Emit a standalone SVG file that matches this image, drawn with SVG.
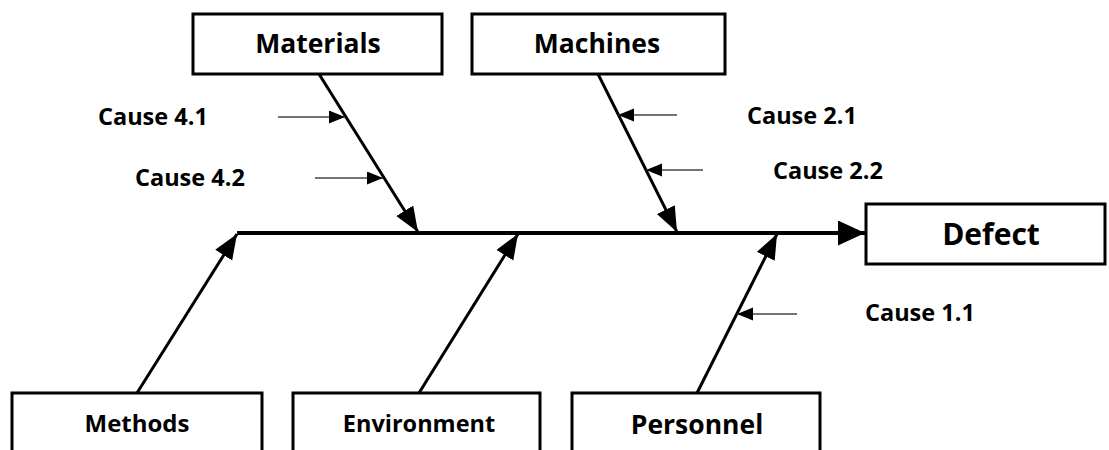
<svg xmlns="http://www.w3.org/2000/svg" width="1109" height="450" viewBox="0 0 1109 450">
<defs>
<style>
.box{fill:#fff;stroke:#000;stroke-width:3}
.lbl{font-family:"Open Sans","Liberation Sans",sans-serif;font-weight:bold;fill:#000;text-anchor:middle}
.cause{font-family:"Open Sans","Liberation Sans",sans-serif;font-weight:bold;font-size:23.5px;fill:#000}
.bone{stroke:#000;stroke-width:3;fill:none;marker-end:url(#big)}
.spine{stroke:#000;stroke-width:4;fill:none;marker-end:url(#spineHead)}
.sub{stroke:#444;stroke-width:1.3;fill:none;marker-end:url(#small)}
</style>
<marker id="big" markerUnits="userSpaceOnUse" markerWidth="26" markerHeight="22" refX="25" refY="10" orient="auto" viewBox="0 0 26 22"><path d="M0,0 L25,10 L0,20 z" fill="#000"/></marker>
<marker id="spineHead" markerUnits="userSpaceOnUse" markerWidth="28" markerHeight="26" refX="27" refY="12.5" orient="auto" viewBox="0 0 28 26"><path d="M0,0 L27,12.5 L0,25 z" fill="#000"/></marker>
<marker id="small" markerUnits="userSpaceOnUse" markerWidth="17" markerHeight="14" refX="16" refY="6.5" orient="auto" viewBox="0 0 17 14"><path d="M0,0 L16,6.5 L0,13 z" fill="#000"/></marker>
</defs>
<rect width="1109" height="450" fill="#fff"/>
<g id="connectors">
<line class="spine" x1="237" y1="233" x2="865" y2="233"/>
<line class="bone" x1="319" y1="74" x2="418" y2="232"/>
<line class="bone" x1="598" y1="74" x2="677" y2="232"/>
<line class="bone" x1="137" y1="393" x2="237" y2="234"/>
<line class="bone" x1="419" y1="393" x2="518" y2="234"/>
<line class="bone" x1="697" y1="393" x2="777" y2="234"/>
<line class="sub" x1="278" y1="117" x2="345" y2="117"/>
<line class="sub" x1="315" y1="178" x2="383" y2="178"/>
<line class="sub" x1="677" y1="115" x2="618" y2="115"/>
<line class="sub" x1="703" y1="170" x2="646" y2="170"/>
<line class="sub" x1="797" y1="314" x2="737" y2="314"/>
</g>
<g id="materials"><rect class="box" x="193" y="14" width="249" height="60"/><text class="lbl" x="318" y="53" font-size="26.5">Materials</text></g>
<g id="machines"><rect class="box" x="472" y="14" width="253" height="60"/><text class="lbl" x="597" y="53" font-size="26.5">Machines</text></g>
<g id="defect"><rect class="box" x="866" y="204" width="239" height="60"/><text class="lbl" x="991" y="245" font-size="30">Defect</text></g>
<g id="methods"><rect class="box" x="12" y="393" width="250" height="70"/><text class="lbl" x="137" y="432" font-size="24">Methods</text></g>
<g id="environment"><rect class="box" x="293" y="393" width="247" height="70"/><text class="lbl" x="419" y="432" font-size="23.5">Environment</text></g>
<g id="personnel"><rect class="box" x="572" y="393" width="248" height="70"/><text class="lbl" x="697" y="434" font-size="26.5">Personnel</text></g>
<g id="cause41"><text class="cause" x="98" y="125">Cause 4.1</text></g>
<g id="cause42"><text class="cause" x="135" y="186">Cause 4.2</text></g>
<g id="cause21"><text class="cause" x="747" y="124">Cause 2.1</text></g>
<g id="cause22"><text class="cause" x="773" y="179">Cause 2.2</text></g>
<g id="cause11"><text class="cause" x="865" y="321">Cause 1.1</text></g>
</svg>
